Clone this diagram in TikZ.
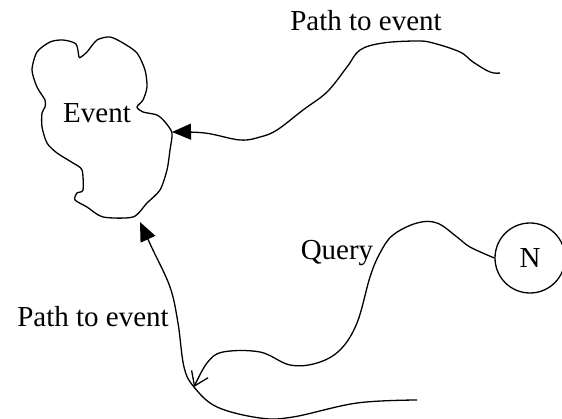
\documentclass[tikz,border=0pt]{standalone}
\usepackage{fontspec}
\setmainfont{Liberation Serif}
\usetikzlibrary{arrows.meta}

\begin{document}
\begin{tikzpicture}[x=1pt, y=-1pt,
  line/.style={draw, line width=1.3pt, line join=round},
  lbl/.style={font=\fontsize{29}{34}\selectfont, inner sep=0pt},
  solidarr/.style={line, -{Triangle[length=19pt, width=16pt]}},
  openarr/.style={line, -{Straight Barb[length=13pt, width=18pt, line width=1.3pt]}}
]
  \useasboundingbox (0,0) rectangle (562,419);

  % the event region
  \draw[line] plot[smooth cycle, tension=0.45] coordinates {
    (32,70) (37,52) (50,42) (63,40) (76,44) (79,57) (81,57) (87,52) (97,40)
    (110,37) (123,43) (137,53) (145,70) (147,87) (143,100) (137,107)
    (143,112) (157,115) (165,122) (172,133) (170,150) (167,170)
    (160,190) (147,203) (133,217) (103,217) (87,207) (75,200) (77,193)
    (83,190) (82,170) (73,163) (57,153) (47,143) (42,127) (42,113)
    (45,107) (45,100) (37,87)};
  \node[lbl] (event) at (97,113) {Event};
  \coordinate (evright) at (172,132);
  \coordinate (evbottom) at (140,222);
  \coordinate (meet) at (194,387);

  \node[lbl, draw, circle, line width=1.3pt, minimum size=70pt] (n) at (530,258) {N};

  \node[lbl] (toptext) at (366,21) {Path to event};
  \node[lbl] (lefttext) at (93,317) {Path to event};
  \node[lbl] (query) at (337,253) {Query};

  % paths to the event
  \draw[solidarr] plot[smooth, tension=0.6] coordinates {
    (500,73) (490,72) (473,62) (460,52) (433,43) (417,41) (383,43)
    (360,50) (347,67) (327,92) (303,110) (277,130) (260,137)
    (240,140) (205,133) (evright)};
  \draw[solidarr] plot[smooth, tension=0.6] coordinates {
    (417,400) (357,403) (293,417) (260,418) (217,407) (meet)
    (184,367) (178,323) (170,287) (152,248) (evbottom)};

  % the query
  \draw[openarr] plot[smooth, tension=0.6] coordinates {
    (n.west) (470,247) (457,237) (437,223) (417,223) (393,235)
    (380,253) (370,277) (357,323) (340,350) (317,363) (290,365)
    (260,352) (223,352) (207,363) (meet)};
\end{tikzpicture}
\end{document}
